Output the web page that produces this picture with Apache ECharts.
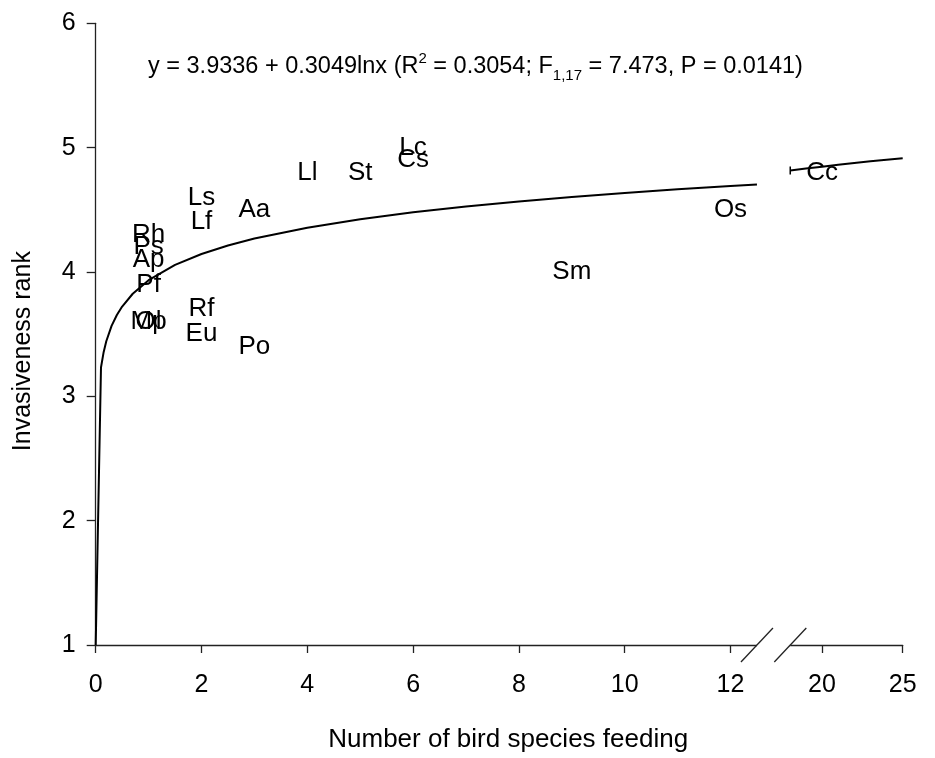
<!DOCTYPE html>
<html>
<head>
<meta charset="utf-8">
<script src="https://cdn.jsdelivr.net/npm/echarts@6/dist/echarts.min.js"></script>
<style>
  html, body { margin: 0; padding: 0; background: #fff; }
  #chart { width: 935px; height: 758px; }
</style>
</head>
<body>
<div id="chart"></div>
<script>
// species codes and their values (x = bird species feeding, y = invasiveness rank)
var species = ["Lc", "Cs", "Ll", "St", "Ls", "Lf", "Aa", "Rh", "Ps", "Ap", "Pf", "Ol", "Mp", "Rf", "Eu", "Po", "Sm", "Os", "Cc"];
var birds   = [6, 6, 4, 5, 2, 2, 3, 1, 1, 1, 1, 1, 1, 2, 2, 3, 9, 12, 20];
var rank    = [5.0, 4.9, 4.8, 4.8, 4.6, 4.4, 4.5, 4.3, 4.2, 4.1, 3.9, 3.6, 3.6, 3.7, 3.5, 3.4, 4.0, 4.5, 4.8];

// fitted trend y = a + b ln x (from the printed equation)
var fitA = 3.9336;
var fitB = 0.3049;
var curveLeftX  = [0.0000661, 0.1, 0.15, 0.2, 0.3, 0.4, 0.5, 0.7, 1, 1.5, 2, 2.5, 3, 4, 5, 6, 7, 8, 9, 10, 11, 12, 12.5];
var curveRightX = [18.03, 19, 20, 21, 22, 23, 24, 25];

var xTickLabels = [0, 2, 4, 6, 8, 10, 12, 20, 25];
var yMin = 1, yMax = 6;

// broken x axis: 0-12 linear, then 20-25 squeezed after the break
var breakAt20 = 13.73, unitAfter = 0.305;
function toDisplay(x) {
  return x <= 12.6 ? x : breakAt20 + (x - 20) * unitAfter;
}
function fromDisplay(d) {
  return d <= 12.6 ? d : Math.round(20 + (d - breakAt20) / unitAfter);
}
var xMaxDisplay = toDisplay(25);
var breakLeft = 12.5, breakRight = 13.13;

var font = "'Liberation Sans', Arial, Helvetica, sans-serif";

var pts = species.map(function (s, i) { return [toDisplay(birds[i]), rank[i], s]; });
var leftLine = curveLeftX.map(function (x) { return [toDisplay(x), fitA + fitB * Math.log(x)]; });
var rightLine = curveRightX.map(function (x) { return [toDisplay(x), fitA + fitB * Math.log(x)]; });
var tickPos = xTickLabels.map(toDisplay);

var chart = echarts.init(document.getElementById("chart"));
var option = {
  backgroundColor: "#fff",
  animation: false,
  title: {
    text: "{n|y = 3.9336 + 0.3049lnx (R}{sup|2}{n| = 0.3054; F}{sub|1,17}{n| = 7.473, P = 0.0141)}",
    left: 143,
    top: 46,
    textStyle: {
      fontFamily: font,
      fontWeight: "normal",
      rich: {
        n: { fontSize: 23.5, fontWeight: "normal", color: "#000", fontFamily: font, lineHeight: 32 },
        sup: { fontSize: 15, fontWeight: "normal", color: "#000", fontFamily: font, verticalAlign: "top", lineHeight: 15 },
        sub: { fontSize: 15, fontWeight: "normal", color: "#000", fontFamily: font, verticalAlign: "bottom", lineHeight: 15 }
      }
    }
  },
  grid: { left: 95.7, right: 32.3, top: 23.3, bottom: 113, containLabel: false },
  xAxis: {
    type: "value",
    min: 0,
    max: xMaxDisplay,
    name: "Number of bird species feeding",
    nameLocation: "middle",
    nameGap: 82,
    nameTextStyle: { fontFamily: font, fontSize: 26, color: "#000", padding: [0, 0, 0, 18] },
    splitLine: { show: false },
    axisLine: { lineStyle: { color: "#222", width: 1.3 } },
    axisTick: { customValues: tickPos, length: 8, lineStyle: { color: "#222", width: 1.3 } },
    axisLabel: {
      customValues: tickPos,
      margin: 28,
      fontFamily: font,
      fontSize: 25,
      color: "#000",
      formatter: function (v) { return String(fromDisplay(v)); }
    }
  },
  yAxis: {
    type: "value",
    min: yMin,
    max: yMax,
    interval: 1,
    name: "Invasiveness rank",
    nameLocation: "middle",
    nameGap: 60,
    nameTextStyle: { fontFamily: font, fontSize: 25, color: "#000", padding: [0, 34, 0, 0] },
    splitLine: { show: false },
    axisLine: { show: true, lineStyle: { color: "#222", width: 1.3 } },
    axisTick: { show: true, length: 9, lineStyle: { color: "#222", width: 1.3 } },
    axisLabel: { margin: 20, fontFamily: font, fontSize: 25, color: "#000" }
  },
  series: [
    {
      type: "line",
      data: leftLine,
      showSymbol: false,
      silent: true,
      lineStyle: { color: "#000", width: 2 }
    },
    {
      type: "line",
      data: rightLine,
      showSymbol: false,
      silent: true,
      lineStyle: { color: "#000", width: 2 }
    },
    {
      type: "scatter",
      data: pts,
      symbolSize: 1,
      silent: true,
      itemStyle: { color: "#fff", opacity: 0 },
      label: {
        show: true,
        position: "inside",
        formatter: function (p) { return p.data[2]; },
        fontFamily: font,
        fontSize: 26,
        color: "#000",
        opacity: 1,
        textBorderWidth: 0
      }
    }
  ]
};
chart.setOption(option);

// axis break marks and the small cap at the restart of the trend line, placed from the axis scale
var pL = chart.convertToPixel({ gridIndex: 0 }, [breakLeft, yMin]);
var pR = chart.convertToPixel({ gridIndex: 0 }, [breakRight, yMin]);
var pCap = chart.convertToPixel({ gridIndex: 0 }, rightLine[0]);
chart.setOption({
  graphic: [
    {
      type: "rect",
      shape: { x: pL[0], y: pL[1] - 3, width: pR[0] - pL[0], height: 6 },
      style: { fill: "#fff" },
      z: 100
    },
    {
      type: "line",
      shape: { x1: pL[0] - 16, y1: pL[1] + 17, x2: pL[0] + 16, y2: pL[1] - 17 },
      style: { stroke: "#222", lineWidth: 1.3 },
      z: 101
    },
    {
      type: "line",
      shape: { x1: pR[0] - 16, y1: pR[1] + 17, x2: pR[0] + 16, y2: pR[1] - 17 },
      style: { stroke: "#222", lineWidth: 1.3 },
      z: 101
    },
    {
      type: "line",
      shape: { x1: pCap[0], y1: pCap[1] - 4, x2: pCap[0], y2: pCap[1] + 4 },
      style: { stroke: "#000", lineWidth: 1.5 },
      z: 101
    }
  ]
});
</script>
</body>
</html>
